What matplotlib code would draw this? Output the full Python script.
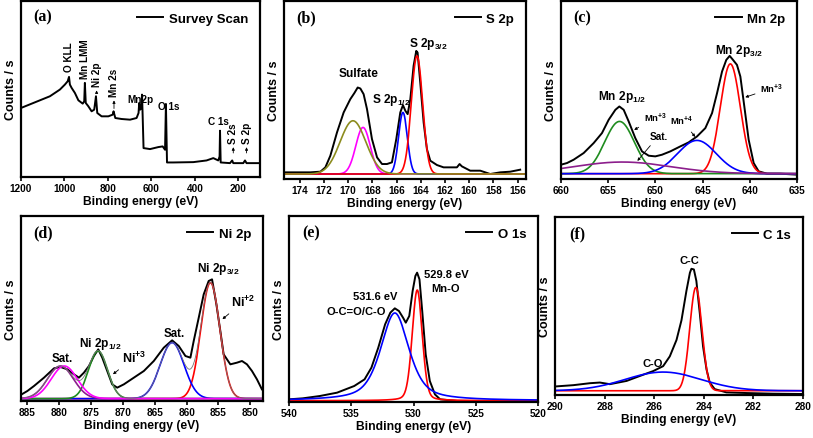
import numpy as np
import matplotlib
matplotlib.use('Agg')
import matplotlib.pyplot as plt

plt.rcParams['font.family'] = ['Liberation Sans', 'DejaVu Sans']
plt.rcParams['font.weight'] = 'bold'
plt.rcParams['mathtext.fontset'] = 'custom'
plt.rcParams['mathtext.rm'] = 'Liberation Sans:bold'
plt.rcParams['mathtext.it'] = 'Liberation Sans:bold'
plt.rcParams['mathtext.bf'] = 'Liberation Sans:bold'
plt.rcParams['mathtext.default'] = 'rm'

# ---------------- data (binding energy in eV, intensity in arbitrary counts) ----------------
# (a) survey
survey_be = [1200, 1143, 1067, 1021, 998, 985, 979, 975, 967, 952, 936, 916, 909, 906, 902, 890, 875,
             863, 855, 849, 829, 798, 778, 774, 766, 737, 698, 668, 659, 656, 651, 646, 643, 640, 636,
             606, 568, 548, 537, 533, 528, 499, 407, 346, 315, 292, 286, 284, 281, 238, 228, 223, 177,
             169, 162, 100]
survey_int = [205, 220, 240, 260, 275, 285, 298, 275, 265, 250, 228, 218, 225, 280, 220, 210, 195,
              200, 240, 190, 180, 180, 185, 195, 175, 172, 170, 175, 190, 220, 200, 210, 245, 180, 85,
              82, 88, 90, 80, 217, 42, 42, 43, 48, 55, 48, 60, 137, 42, 40, 48, 40, 40,
              48, 40, 40]

# (b) S 2p
s2p_be = [175.18, 174.22, 173.12, 172.29, 171.88, 171.47, 170.92, 170.37, 169.82, 169.49, 169.21, 168.99,
          168.72, 168.44, 168.03, 167.61, 167.20, 166.79, 166.38, 166.02, 165.69, 165.47, 165.27, 165.08,
          164.86, 164.59, 164.37, 164.26, 164.04, 163.76, 163.49, 163.21, 162.66, 162.11, 161.56, 161.01,
          160.79, 160.60, 159.91, 159.08, 158.26, 157.43, 156.60, 155.78]
s2p_int = [20, 20, 20, 22, 35, 70, 140, 200, 240, 258, 275, 272,
           255, 210, 120, 65, 45, 45, 50, 120, 200, 222, 205, 195,
           240, 340, 385, 380, 290, 170, 90, 55, 42, 35, 35, 35,
           45, 38, 25, 25, 15, 20, 22, 28]
# fitted components: centre, height, fwhm
s2p_centre = [169.6, 168.77, 165.47, 164.31]
s2p_height = [160, 140, 185, 355]
s2p_fwhm = [2.5, 1.4, 0.85, 1.1]
s2p_base = 15

# (c) Mn 2p
mn_be = [660.0, 659.36, 658.66, 657.60, 656.54, 655.66, 654.95, 654.24, 653.82, 653.36, 652.83, 652.13,
         651.42, 650.71, 650.01, 649.30, 648.42, 647.36, 646.48, 645.59, 644.71, 644.00, 643.47, 642.94,
         642.49, 642.13, 641.78, 641.36, 641.00, 640.58, 640.12, 639.59, 639.06, 638.18, 636.77, 635.0]
mn_int = [43, 48, 58, 78, 108, 138, 178, 208, 218, 208, 173, 123,
          83, 70, 68, 73, 83, 98, 110, 128, 153, 198, 258, 323,
          358, 370, 358, 343, 308, 218, 118, 48, 23, 16, 16, 13]
mn_centre = [653.8, 653.5, 645.6, 642.06]
mn_height = [157, 35, 100, 330]
mn_fwhm = [3.7, 12.0, 4.8, 2.5]
mn_base = 16

# (d) Ni 2p
ni_be = [885.89, 885.0, 883.96, 882.39, 880.82, 879.78, 878.73, 877.69, 876.90, 876.12, 875.33, 874.55,
         873.87, 873.24, 872.46, 871.68, 870.89, 869.85, 868.28, 866.71, 865.15, 863.58, 862.27, 861.23,
         860.18, 859.40, 858.88, 858.09, 857.31, 856.53, 856.00, 855.32, 854.70, 854.18, 853.13, 852.09,
         851.30, 850.52, 849.73, 848.95, 848.17]
ni_int = [20, 30, 45, 70, 98, 102, 95, 80, 70, 85, 105, 135,
          155, 130, 90, 50, 40, 50, 70, 90, 120, 160, 182, 165,
          135, 130, 180, 250, 320, 360, 365, 290, 210, 140, 110, 115,
          120, 110, 90, 65, 35]
ni_centre = [879.8, 879.2, 873.9, 862.27, 856.26]
ni_height = [98, 98, 143, 168, 348]
ni_fwhm = [4.8, 4.8, 3.5, 4.4, 3.5]
ni_base = 7

# (e) O 1s
o_be = [540.0, 538.90, 537.52, 536.14, 534.76, 533.93, 533.38, 532.83, 532.28, 531.86, 531.50, 531.17,
        530.84, 530.62, 530.34, 530.07, 529.85, 529.71, 529.52, 529.30, 529.02, 528.69, 528.28, 527.86,
        526.48, 520.0]
o_int = [8, 11, 18, 28, 48, 68, 103, 163, 233, 268, 281, 273,
         253, 238, 258, 333, 378, 388, 368, 273, 143, 63, 23, 8,
         3, 3]
o_centre = [531.5, 529.7]
o_height = [263, 332]
o_fwhm = [2.7, 0.95]
o_eta = [0.6, 0.2]
o_base = 4

# (f) C 1s
c_be = [290.0, 289.26, 288.59, 288.19, 287.79, 287.11, 286.58, 286.04, 285.64, 285.37, 285.10, 284.90,
        284.70, 284.56, 284.50, 284.40, 284.30, 284.16, 284.03, 283.89, 283.76, 283.56, 283.09, 282.28,
        281.21, 280.0]
c_int = [26, 30, 36, 38, 33, 43, 58, 73, 88, 118, 168, 228,
         318, 373, 385, 383, 348, 248, 148, 78, 38, 18, 8, 6,
         4, 3]
c_centre = [285.64, 284.32]
c_height = [57, 315]
c_fwhm = [3.6, 0.58]
c_base = 13

# ---------------- helpers ----------------
W, H = 813, 439
fig = plt.figure(figsize=(W / 100, H / 100), dpi=100)


def add_ax(l, t, r, b):
    return fig.add_axes([l / W, 1 - b / H, (r - l) / W, (b - t) / H])


def peak(x, c, h, w, eta=0.0):
    g = np.exp(-4 * np.log(2) * ((x - c) / w) ** 2)
    lor = 1.0 / (1 + 4 * ((x - c) / w) ** 2)
    return h * (eta * lor + (1 - eta) * g)


def style(ax, xlim, ylim, ticks, panel):
    ax.set_xlim(*xlim)
    ax.set_ylim(*ylim)
    ax.set_xticks(ticks)
    ax.set_xticklabels([str(t) for t in ticks])
    ax.set_yticks([])
    for s in ax.spines.values():
        s.set_linewidth(1.6)
    ax.tick_params(axis='x', direction='out', length=3, width=1.2, labelsize=7.2, pad=1.5)
    for lab in ax.get_xticklabels():
        lab.set_fontweight('bold')
    ax.set_xlabel('Binding energy (eV)', fontsize=8.7, fontweight='bold', labelpad=1.5)
    ax.set_ylabel('Counts / s', fontsize=9, fontweight='bold', labelpad=3)
    ax.legend(loc='upper right', frameon=False, handlelength=2.0,
              handletextpad=0.4, borderaxespad=0.5, prop={'weight': 'bold', 'size': 9.5})
    ax.text(0.09, 0.91, panel, transform=ax.transAxes, ha='center', va='center',
            fontsize=11.5, fontweight='bold', family=['Liberation Serif', 'DejaVu Serif'])


OLIVE = '#8c8c1e'
MAGENTA = '#ff00ff'
BLUE = '#0000ff'
RED = '#ff0000'
GREEN = '#1e8c1e'
PURPLE = '#8c1e8c'
LW = 1.4
CW = 1.2
arrow = dict(arrowstyle='-|>', color='black', lw=0.6, mutation_scale=4)

# ---------------- (a) ----------------
ax = add_ax(21, 2, 260, 177.5)
ax.plot(survey_be, survey_int, color='black', lw=LW, label='Survey Scan')
style(ax, (1200, 100), (0, 525), [1200, 1000, 800, 600, 400, 200], '(a)')
fs = 7.2
ax.text(979, 316, 'O KLL', rotation=90, ha='center', va='bottom', fontsize=fs, fontweight='bold')
ax.text(906, 295, 'Mn LMM', rotation=90, ha='center', va='bottom', fontsize=fs, fontweight='bold')
ax.annotate('', xy=(906, 292), xytext=(906, 282), arrowprops=dict(arrowstyle='-', color='0.5', lw=0.8))
ax.text(852, 270, 'Ni 2p', rotation=90, ha='center', va='bottom', fontsize=fs, fontweight='bold')
ax.annotate('', xy=(852, 266), xytext=(852, 240), arrowprops=arrow)
ax.text(772, 240, 'Mn 2s', rotation=90, ha='center', va='bottom', fontsize=fs, fontweight='bold')
ax.annotate('', xy=(772, 236), xytext=(772, 195), arrowprops=arrow)
ax.text(652, 233, 'Mn2p', ha='center', va='center', fontsize=fs, fontweight='bold')
ax.text(522, 210, 'O 1s', ha='center', va='center', fontsize=fs, fontweight='bold')
ax.text(292, 165, 'C 1s', ha='center', va='center', fontsize=fs, fontweight='bold')
ax.text(223, 100, 'S 2s', rotation=90, ha='center', va='bottom', fontsize=fs, fontweight='bold')
ax.annotate('', xy=(223, 96), xytext=(223, 62), arrowprops=arrow)
ax.text(162, 100, 'S 2p', rotation=90, ha='center', va='bottom', fontsize=fs, fontweight='bold')
ax.annotate('', xy=(162, 96), xytext=(162, 62), arrowprops=arrow)

# ---------------- (b) ----------------
ax = add_ax(284, 2, 526, 180)
xb = np.linspace(155.3, 175.3, 800)
ax.plot(s2p_be, s2p_int, color='black', lw=LW, label='S 2p')
cols_b = [OLIVE, MAGENTA, BLUE, RED]
for i in [1, 2, 3, 0]:
    ax.plot(xb, s2p_base + peak(xb, s2p_centre[i], s2p_height[i], s2p_fwhm[i]), color=cols_b[i], lw=CW)
style(ax, (175.3, 155.3), (0, 535), list(range(174, 155, -2)), '(b)')
ax.text(169.13, 318, 'Sulfate', ha='center', va='center', fontsize=8.6, fontweight='bold')
ax.text(166.45, 240, r'S 2p$_{1/2}$', ha='center', va='center', fontsize=8.6, fontweight='bold')
ax.text(163.4, 410, r'S 2p$_{3/2}$', ha='center', va='center', fontsize=8.6, fontweight='bold')

# ---------------- (c) ----------------
ax = add_ax(561, 2, 797, 180)
xc = np.linspace(635, 660, 800)
ax.plot(mn_be, mn_int, color='black', lw=LW, label='Mn 2p')
cols_c = [GREEN, PURPLE, BLUE, RED]
for i in [3, 0, 2, 1]:
    ax.plot(xc, mn_base + peak(xc, mn_centre[i], mn_height[i], mn_fwhm[i]), color=cols_c[i], lw=CW)
style(ax, (660, 635), (0, 535), [660, 655, 650, 645, 640, 635], '(c)')
ax.text(653.54, 248, r'Mn 2p$_{1/2}$', ha='center', va='center', fontsize=8.6, fontweight='bold')
ax.text(641.2, 388, r'Mn 2p$_{3/2}$', ha='center', va='center', fontsize=8.6, fontweight='bold')
sfs = 6.8
ax.annotate(r'Mn$^{+3}$', xy=(652.5, 143), xytext=(650.0, 186), ha='center', va='center', fontsize=sfs,
            fontweight='bold', arrowprops=arrow)
ax.annotate('Sat.', xy=(652.1, 48), xytext=(649.65, 130), ha='center', va='center', fontsize=sfs + 0.4,
            fontweight='bold', arrowprops=arrow)
ax.annotate(r'Mn$^{+4}$', xy=(645.6, 120), xytext=(647.18, 176), ha='center', va='center', fontsize=sfs,
            fontweight='bold', arrowprops=arrow)
ax.annotate(r'Mn$^{+3}$', xy=(640.76, 243), xytext=(637.65, 273), ha='center', va='center', fontsize=sfs,
            fontweight='bold', arrowprops=arrow)

# ---------------- (d) ----------------
ax = add_ax(21, 217, 263, 402)
xd = np.linspace(847.5, 886, 900)
ax.plot(ni_be, ni_int, color='black', lw=LW, label='Ni 2p')
cols_d = [PURPLE, MAGENTA, GREEN, BLUE, RED]
env = np.full_like(xd, float(ni_base))
for i in [0, 2, 3, 4]:
    env += peak(xd, ni_centre[i], ni_height[i], ni_fwhm[i])
for i in [4, 3, 2, 0, 1]:
    ax.plot(xd, ni_base + peak(xd, ni_centre[i], ni_height[i], ni_fwhm[i]), color=cols_d[i], lw=CW)
ax.plot(xd, env, color='0.45', lw=0.6)
style(ax, (886, 848), (0, 555), [885, 880, 875, 870, 865, 860, 855, 850], '(d)')
ax.text(879.6, 130, 'Sat.', ha='center', va='center', fontsize=8.3, fontweight='bold')
ax.text(873.5, 175, r'Ni 2p$_{1/2}$', ha='center', va='center', fontsize=8.6, fontweight='bold')
ax.text(862.0, 205, 'Sat.', ha='center', va='center', fontsize=8.3, fontweight='bold')
ax.text(855.0, 400, r'Ni 2p$_{3/2}$', ha='center', va='center', fontsize=8.6, fontweight='bold')
ax.annotate(r'Ni$^{+3}$', xy=(871.9, 75), xytext=(868.3, 130), ha='center', va='center', fontsize=9,
            fontweight='bold', arrowprops=arrow)
ax.annotate(r'Ni$^{+2}$', xy=(854.7, 240), xytext=(851.1, 298), ha='center', va='center', fontsize=9,
            fontweight='bold', arrowprops=arrow)

# ---------------- (e) ----------------
ax = add_ax(289, 217, 538, 403)
xe = np.linspace(520, 540, 800)
ax.plot(o_be, o_int, color='black', lw=LW, label='O 1s')
cols_e = [BLUE, RED]
for i in [1, 0]:
    ax.plot(xe, o_base + peak(xe, o_centre[i], o_height[i], o_fwhm[i], o_eta[i]), color=cols_e[i], lw=CW)
style(ax, (540, 520), (0, 558), [540, 535, 530, 525, 520], '(e)')
ax.text(533.1, 318, '531.6 eV', ha='center', va='center', fontsize=8, fontweight='bold')
ax.text(534.6, 273, 'O-C=O/C-O', ha='center', va='center', fontsize=8, fontweight='bold')
ax.text(527.37, 383, '529.8 eV', ha='center', va='center', fontsize=8, fontweight='bold')
ax.text(527.45, 341, 'Mn-O', ha='center', va='center', fontsize=8, fontweight='bold')

# ---------------- (f) ----------------
ax = add_ax(555, 218, 803, 396)
xf = np.linspace(280, 290, 800)
ax.plot(c_be, c_int, color='black', lw=LW, label='C 1s')
cols_f = [BLUE, RED]
for i in [1, 0]:
    ax.plot(xf, c_base + peak(xf, c_centre[i], c_height[i], c_fwhm[i]), color=cols_f[i], lw=CW)
style(ax, (290, 280), (0, 543), [290, 288, 286, 284, 282, 280], '(f)')
ax.text(284.59, 413, 'C-C', ha='center', va='center', fontsize=8, fontweight='bold')
ax.text(286.04, 98, 'C-O', ha='center', va='center', fontsize=8, fontweight='bold')

fig.savefig('out.png', dpi=100)
